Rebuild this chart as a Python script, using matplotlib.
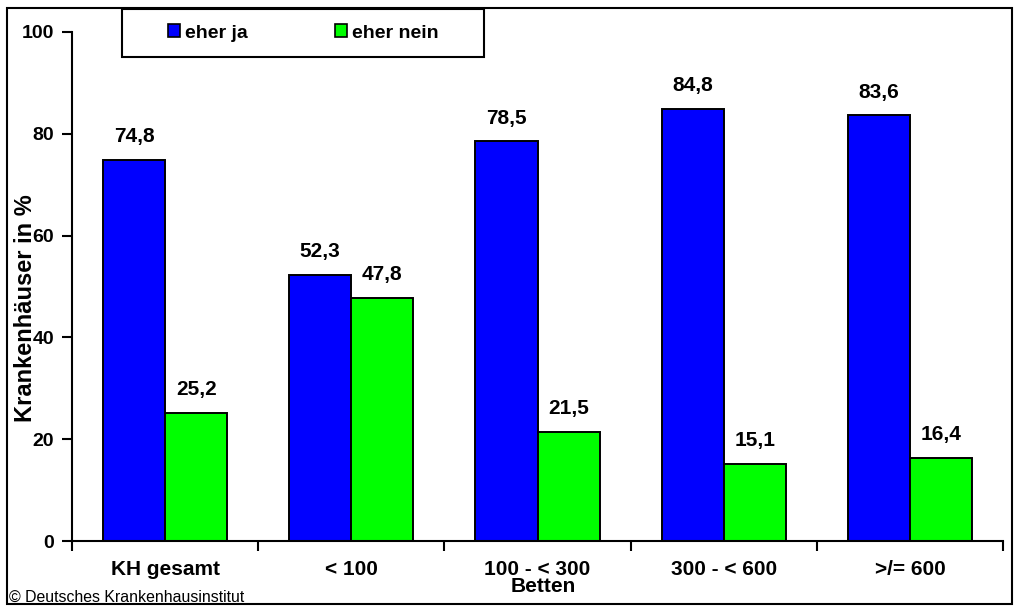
import numpy as np
import matplotlib.pyplot as plt
from matplotlib.patches import Rectangle, Patch

categories = ["KH gesamt", "< 100", "100 - < 300", "300 - < 600", ">/= 600"]
eher_ja = [74.8, 52.3, 78.5, 84.8, 83.6]
eher_nein = [25.2, 47.8, 21.5, 15.1, 16.4]
series_names = ["eher ja", "eher nein"]

plt.rcParams['font.family'] = ['Liberation Sans', 'DejaVu Sans']
plt.rcParams['font.weight'] = 'bold'

W, H = 1015, 606
fig = plt.figure(figsize=(W / 100, H / 100), dpi=100)
ax = fig.add_axes([72 / W, 1 - 541 / H, (1003 - 72) / W, (541 - 32) / H])

x = np.arange(len(categories))
w = 1 / 3
b1 = ax.bar(x - w / 2, eher_ja, w, color='#0000FF', edgecolor='black', linewidth=1.4)
b2 = ax.bar(x + w / 2, eher_nein, w, color='#00FF00', edgecolor='black', linewidth=1.4)

def fmt(v):
    return f"{v:.1f}".replace('.', ',')

for bars, vals in [(b1, eher_ja), (b2, eher_nein)]:
    for rect, v in zip(bars, vals):
        ax.annotate(fmt(v), (rect.get_x() + rect.get_width() / 2, v),
                    xytext=(0, 10), textcoords='offset points',
                    ha='center', va='bottom', fontsize=15, fontweight='bold')

ax.set_xlim(-0.5, len(categories) - 0.5)
ax.set_ylim(0, 100)
ax.set_yticks([0, 20, 40, 60, 80, 100])
ax.set_xticks(x)
ax.set_xticklabels(categories)
ax.set_xticks(np.arange(len(categories) + 1) - 0.5, minor=True)
ax.tick_params(axis='x', which='major', length=0, pad=14, labelsize=15)
ax.tick_params(axis='x', which='minor', length=7, width=1.5, direction='out')
ax.tick_params(axis='y', length=7, width=1.5, direction='out', pad=6, labelsize=14)
for lab in ax.get_xticklabels() + ax.get_yticklabels():
    lab.set_fontweight('bold')

ax.spines['top'].set_visible(False)
ax.spines['right'].set_visible(False)
ax.spines['left'].set_linewidth(1.5)
ax.spines['bottom'].set_linewidth(1.5)

fig.text(26 / W, 1 - 308 / H, "Krankenhäuser in %", rotation=90,
         ha='center', va='center', fontsize=17, fontweight='bold')
fig.text(543 / W, 1 - 586 / H, "Betten", ha='center', va='center',
         fontsize=15, fontweight='bold')
fig.text(9 / W, 1 - 597 / H, "© Deutsches Krankenhausinstitut", ha='left', va='center',
         fontsize=11.4, fontweight='normal')

# legend box
fig.patches.append(Rectangle((122 / W, 1 - 57 / H), (484 - 122) / W, (57 - 9) / H,
                             transform=fig.transFigure, facecolor='white',
                             edgecolor='black', linewidth=1.5, zorder=3))
handles = [Patch(facecolor='#0000FF', edgecolor='black', linewidth=1.2),
           Patch(facecolor='#00FF00', edgecolor='black', linewidth=1.2)]
fig.legend(handles, series_names, loc='center', bbox_to_anchor=(303 / W, 1 - 33 / H),
           ncol=2, frameon=False, handlelength=0.62, handleheight=0.62,
           handletextpad=0.25, columnspacing=4.5, prop={'size': 14, 'weight': 'bold'})

# outer border
fig.patches.append(Rectangle((7 / W, 2 / H), (1012 - 7) / W, (598 - 2) / H,
                             transform=fig.transFigure, facecolor='none',
                             edgecolor='black', linewidth=1.5))

fig.savefig("out.png", dpi=100)
